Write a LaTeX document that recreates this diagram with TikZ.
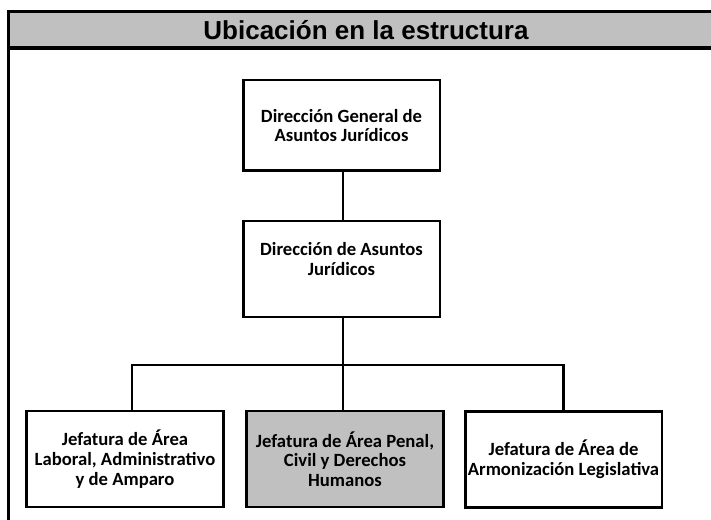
\documentclass[tikz,border=0pt]{standalone}
\usepackage{fontspec}
\setmainfont{Carlito}
\newfontfamily\titulofont{Liberation Sans}
\usetikzlibrary{positioning}
\definecolor{gris}{HTML}{C0C0C0}

\begin{document}
\begin{tikzpicture}[x=0.75pt,y=-0.75pt,
    caja/.style={draw,line width=2pt,fill=white,align=center,inner xsep=0pt,
      font=\bfseries\fontsize{14}{14.8}\selectfont,
      minimum width=147.5pt,minimum height=70pt},
    linea/.style={line width=1.9pt}]
    \useasboundingbox (0,0) rectangle (711,520);
    \clip (0,0) rectangle (711,520);
    % marco y encabezado
    \fill[gris] (8.5,11.5) rectangle (740,48);
    \draw[line width=2.4pt] (8.5,11.5) rectangle (740,560);
    \draw[line width=2.4pt] (8.5,48) -- (740,48);
    \node (titulo) at (366,30.5) {\titulofont\bfseries\fontsize{19.5}{22}\selectfont Ubicación en la estructura};
    % cajas
    \node[caja,minimum height=68pt] (dgaj) at (341.5,125.5)
        {Dirección General de\\Asuntos Jurídicos};
    \node[caja,minimum height=72pt] (daj) at (341.5,269)
        {Dirección de Asuntos\\Jurídicos\\\mbox{}};
    \node[caja,minimum height=72pt] (jlab) at (125,459)
        {Jefatura de Área\\Laboral, Administrativo\\y de Amparo};
    \node[caja,minimum height=72pt,fill=gris] (jpen) at (345,459)
        {Jefatura de Área Penal,\\Civil y Derechos\\Humanos};
    \node[caja,minimum height=72pt] (jarm) at (563.5,459.5)
        {Jefatura de Área de\\Armonización Legislativa};
    % conectores
    \coordinate (barra) at (343,365);
    \draw[linea] (dgaj.south -| barra) -- (daj.north -| barra);
    \draw[linea] (daj.south -| barra) -- (jpen.north -| barra);
    \draw[linea] ([xshift=5.25pt]jlab.north) |- (barra) -| (jarm.north);
\end{tikzpicture}
\end{document}
